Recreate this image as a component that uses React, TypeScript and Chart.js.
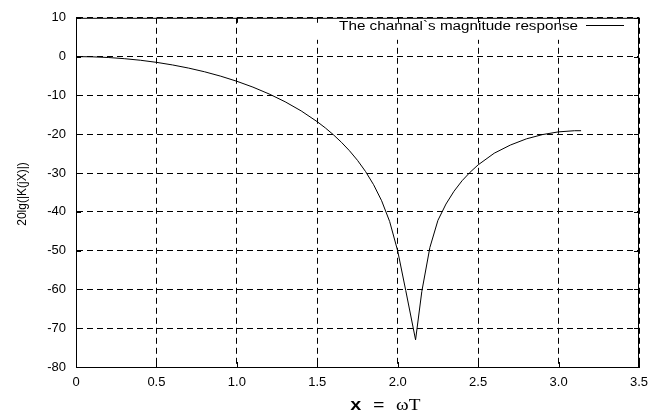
import React, { useEffect, useRef } from "react";
import { Chart, registerables } from "chart.js";

Chart.register(...registerables);

const xValues = [
  0, 0.1, 0.2, 0.3, 0.4, 0.5, 0.6, 0.7, 0.8, 0.9, 1.0, 1.1, 1.2, 1.3, 1.4, 1.5,
  1.55, 1.6, 1.65, 1.7, 1.75, 1.8, 1.85, 1.9, 1.95, 2.0, 2.05, 2.111, 2.15, 2.2,
  2.25, 2.3, 2.35, 2.4, 2.45, 2.5, 2.6, 2.7, 2.8, 2.9, 3.0, 3.1, 3.14,
];
const yValues = [
  0, -0.06, -0.23, -0.53, -0.94, -1.48, -2.15, -2.96, -3.92, -5.05, -6.36, -7.87,
  -9.62, -11.64, -14.0, -16.79, -18.38, -20.13, -22.08, -24.26, -26.74, -29.61,
  -33.01, -37.15, -42.51, -50.1, -60.3, -73, -60.5, -49.2, -42.2, -38.0, -34.7,
  -32.0, -29.8, -27.9, -24.9, -22.8, -21.2, -20.1, -19.4, -19.1, -19.1,
];
const seriesLabel = "The channal`s magnitude response";
const yTitle = "20lg(|K(jX)|)";
const xTitleBold = "x";
const xTitleEq = " = ";
const xTitleRest = "\u03C9T";
const xMin = 0, xMax = 3.5, xStep = 0.5;
const yMin = -80, yMax = 10, yStep = 10;

const SANS = "'Liberation Sans', Arial, Helvetica, sans-serif";
const MONO = "'Liberation Mono', 'Courier New', monospace";
const SERIF = "'Liberation Serif', 'Times New Roman', serif";

const framePlugin = {
  id: "frame",
  afterDraw(chart: any) {
    const ctx = chart.ctx as CanvasRenderingContext2D;
    const { left, right, top, bottom } = chart.chartArea;
    const xs = chart.scales.x;
    const ys = chart.scales.y;
    ctx.save();
    // key box (opaque)
    ctx.fillStyle = "#fff";
    ctx.fillRect(300, top + 1, right - 300 - 1, 21);
    // frame
    ctx.strokeStyle = "#000";
    ctx.lineWidth = 1;
    ctx.setLineDash([]);
    ctx.strokeRect(left + 0.5, top + 0.5, right - left - 1, bottom - top);
    // inward ticks
    const tl = 5;
    ctx.beginPath();
    for (let v = xMin; v <= xMax + 1e-9; v += xStep) {
      const px = Math.round(xs.getPixelForValue(v)) + 0.5;
      ctx.moveTo(px, bottom); ctx.lineTo(px, bottom - tl);
      ctx.moveTo(px, top); ctx.lineTo(px, top + tl);
    }
    for (let v = yMin; v <= yMax + 1e-9; v += yStep) {
      const py = Math.round(ys.getPixelForValue(v)) + 0.5;
      ctx.moveTo(left, py); ctx.lineTo(left + tl, py);
      ctx.moveTo(right, py); ctx.lineTo(right - tl, py);
    }
    ctx.stroke();
    // key text + sample
    ctx.fillStyle = "#000";
    ctx.font = `12px ${SANS}`;
    ctx.textBaseline = "alphabetic";
    ctx.textAlign = "right";
    ctx.save();
    ctx.translate(578, 30);
    ctx.scale(1.27, 1);
    ctx.fillText(seriesLabel, 0, 0);
    ctx.restore();
    ctx.beginPath();
    ctx.moveTo(586, 25.5);
    ctx.lineTo(624, 25.5);
    ctx.stroke();
    // y title
    ctx.save();
    ctx.translate(26, 194);
    ctx.rotate(-Math.PI / 2);
    ctx.textAlign = "center";
    ctx.textBaseline = "alphabetic";
    ctx.font = `12px ${SANS}`;
    ctx.fillText(yTitle, 0, 0);
    ctx.restore();
    // x title
    ctx.save();
    ctx.translate(350, 410);
    ctx.scale(1.2, 1);
    ctx.textAlign = "left";
    ctx.font = `bold 16px ${MONO}`;
    ctx.fillText(xTitleBold, 0, 0);
    let w = ctx.measureText(xTitleBold).width;
    ctx.font = `16px ${MONO}`;
    ctx.fillText(xTitleEq, w, 0);
    w += ctx.measureText(xTitleEq).width;
    ctx.font = `16px ${SERIF}`;
    ctx.fillText(xTitleRest, w, 0);
    ctx.restore();
    ctx.restore();
  },
};

export default function App() {
  const ref = useRef<HTMLCanvasElement>(null);
  useEffect(() => {
    const data = xValues.map((x, i) => ({ x, y: yValues[i] }));
    const chart = new Chart(ref.current!, {
      type: "line",
      data: {
        datasets: [
          {
            label: seriesLabel,
            data,
            borderColor: "#000",
            borderWidth: 1,
            pointRadius: 0,
            tension: 0,
            fill: false,
          },
        ],
      },
      options: {
        responsive: false,
        animation: false,
        devicePixelRatio: 1,
        layout: { padding: { left: 0, top: 15, right: 30, bottom: 0 } },
        plugins: { legend: { display: false }, tooltip: { enabled: false } },
        scales: {
          x: {
            type: "linear",
            min: xMin,
            max: xMax,
            afterFit: (s: any) => { s.height = 52; },
            ticks: {
              stepSize: xStep,
              autoSkip: false,
              maxRotation: 0,
              padding: 8,
              color: "#000",
              font: { family: SANS, size: 13 },
            },
            grid: { color: "#000", lineWidth: 1, drawTicks: false },
            border: { display: true, color: "#000", width: 1, dash: [6, 4] },
          },
          y: {
            type: "linear",
            min: yMin,
            max: yMax,
            afterFit: (s: any) => { s.width = 76; },
            ticks: {
              stepSize: yStep,
              autoSkip: false,
              padding: 10,
              color: "#000",
              font: { family: SANS, size: 13 },
            },
            grid: { color: "#000", lineWidth: 1, drawTicks: false },
            border: { display: true, color: "#000", width: 1, dash: [6, 4] },
          },
        },
      },
      plugins: [framePlugin],
    } as any);
    return () => chart.destroy();
  }, []);
  return (
    <div style={{ position: "absolute", left: 0, top: 0, width: 669, height: 419, background: "#fff" }}>
      <canvas ref={ref} width={669} height={419} style={{ display: "block" }} />
    </div>
  );
}
